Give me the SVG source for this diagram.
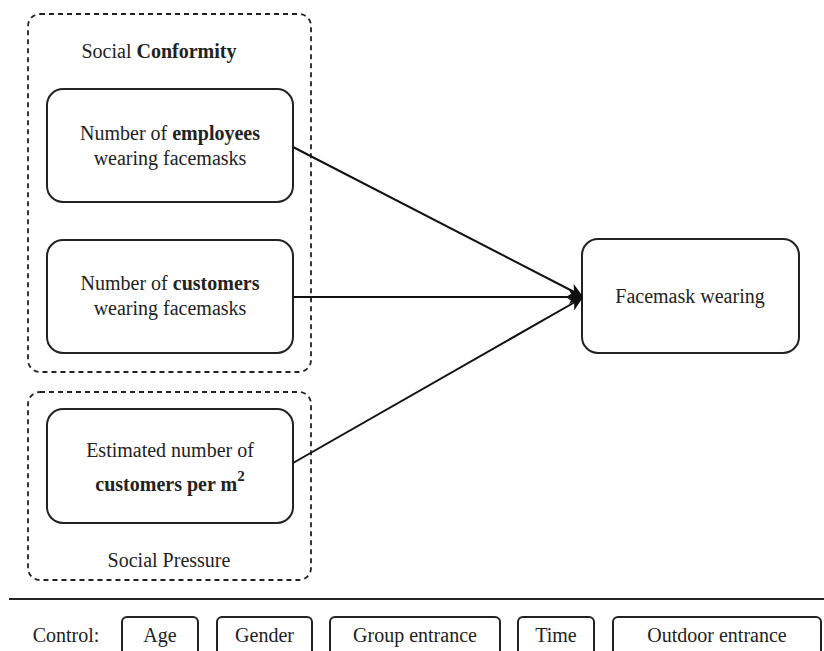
<svg xmlns="http://www.w3.org/2000/svg" width="824" height="651" viewBox="0 0 824 651">
<defs>
<style>
.grp{fill:none;stroke:#222;stroke-width:1.8;stroke-dasharray:5,4}
.box{fill:#fff;stroke:#222;stroke-width:2}
text{font-family:'Liberation Serif','Times New Roman','DejaVu Serif',serif;font-size:20px;fill:#222;text-anchor:middle}
.b{font-weight:bold}
.edge{stroke:#111;stroke-width:2;fill:none}
</style>
<marker id="ah" markerWidth="14" markerHeight="14" refX="13" refY="7" orient="auto" markerUnits="userSpaceOnUse" viewBox="0 0 14 14">
<path d="M0,0 L14,7 L0,14 L4,7 z" fill="#111"/>
</marker>
</defs>
<rect width="824" height="651" fill="#fff"/>

<g id="social-conformity">
<rect class="grp" x="28" y="14" width="283" height="358" rx="12"/>
<text x="159" y="58" font-family="Liberation Serif, serif">Social <tspan class="b">Conformity</tspan></text>
</g>

<g id="social-pressure">
<rect class="grp" x="28" y="392" width="283" height="188" rx="12"/>
<text x="169" y="567" font-family="Liberation Serif, serif">Social Pressure</text>
</g>

<g id="employees">
<rect class="box" x="47" y="89" width="246" height="113" rx="16"/>
<text x="170" y="140" font-family="Liberation Serif, serif">Number of <tspan class="b">employees</tspan></text>
<text x="170" y="165" font-family="Liberation Serif, serif">wearing facemasks</text>
</g>

<g id="customers">
<rect class="box" x="47" y="240" width="246" height="113" rx="16"/>
<text x="170" y="290" font-family="Liberation Serif, serif">Number of <tspan class="b">customers</tspan></text>
<text x="170" y="315" font-family="Liberation Serif, serif">wearing facemasks</text>
</g>

<g id="density">
<rect class="box" x="47" y="409" width="246" height="114" rx="16"/>
<text x="170" y="457" font-family="Liberation Serif, serif">Estimated number of</text>
<text class="b" x="170" y="491" font-family="Liberation Serif, serif">customers per m<tspan dy="-10" font-size="15">2</tspan></text>
</g>

<g id="facemask">
<rect class="box" x="582" y="239" width="217" height="114" rx="16"/>
<text x="690" y="303" font-family="Liberation Serif, serif">Facemask wearing</text>
</g>

<g id="connectors">
<line class="edge" x1="293" y1="147" x2="582" y2="296" marker-end="url(#ah)"/>
<line class="edge" x1="293" y1="297" x2="582" y2="297" marker-end="url(#ah)"/>
<line class="edge" x1="293" y1="463" x2="582" y2="298" marker-end="url(#ah)"/>
</g>

<g id="control">
<line x1="9" y1="599" x2="824" y2="599" stroke="#222" stroke-width="2"/>
<text x="66" y="642" font-family="Liberation Serif, serif">Control:</text>
<g id="age"><rect class="box" x="122" y="617" width="76" height="50" rx="5"/><text x="160" y="642" font-family="Liberation Serif, serif">Age</text></g>
<g id="gender"><rect class="box" x="217" y="617" width="95" height="50" rx="5"/><text x="264.5" y="642" font-family="Liberation Serif, serif">Gender</text></g>
<g id="group"><rect class="box" x="330" y="617" width="170" height="50" rx="5"/><text x="415" y="642" font-family="Liberation Serif, serif">Group entrance</text></g>
<g id="time"><rect class="box" x="518" y="617" width="76" height="50" rx="5"/><text x="556" y="642" font-family="Liberation Serif, serif">Time</text></g>
<g id="outdoor"><rect class="box" x="613" y="617" width="208" height="50" rx="5"/><text x="717" y="642" font-family="Liberation Serif, serif">Outdoor entrance</text></g>
</g>
</svg>
